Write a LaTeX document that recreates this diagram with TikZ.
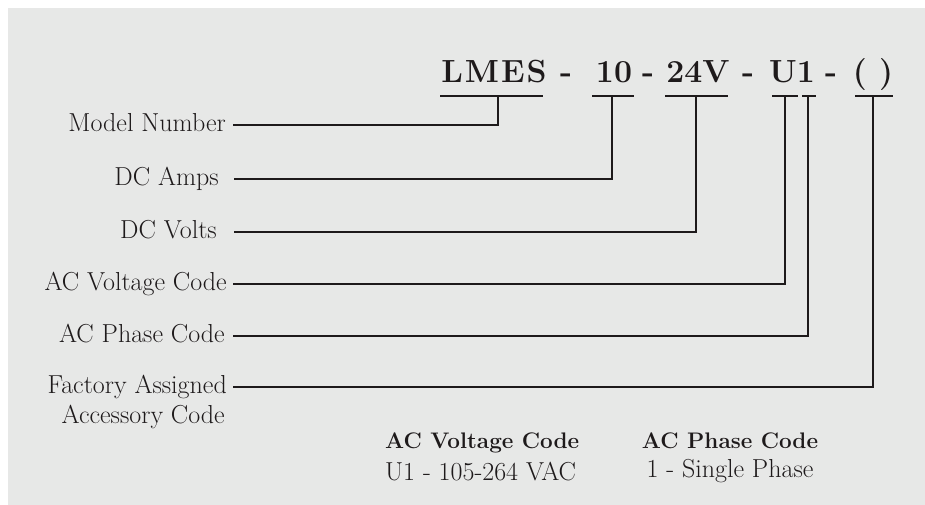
\documentclass[tikz,border=0pt]{standalone}
\usepackage{tikz}
\usetikzlibrary{positioning}

\definecolor{panel}{HTML}{E7E8E7}
\definecolor{ink}{HTML}{1E1A1B}

\begin{document}
\begin{tikzpicture}[x=1pt, y=-1pt,
  title/.style={font=\fontsize{32}{36}\selectfont\bfseries, text=ink, inner sep=0pt, anchor=base},
  lbl/.style={font=\fontsize{26}{31}\selectfont, text=ink, inner sep=0pt, text height=18pt, text depth=5.5pt, anchor=east},
  head/.style={font=\fontsize{22.5}{27}\selectfont\bfseries, text=ink, inner sep=0pt},
  val/.style={font=\fontsize{26}{31}\selectfont, text=ink, inner sep=0pt},
  wire/.style={draw=ink, line width=1.8pt}]

  \useasboundingbox (0,0) rectangle (925,504);
  \fill[white] (0,0) rectangle (925,504);
  \fill[panel] (8,8) rectangle (940,520);

  % Part number
  \node[title] (lmes) at (494,82) {L\kern2pt M\kern2pt E\kern2pt S};
  \node[title] (dasha) at (566,82) {-};
  \node[title] (amp) at (614,82) {10};
  \node[title] (dashb) at (648,82) {-};
  \node[title] (volt) at (698,82) {24V};
  \node[title] (dashc) at (748,82) {-};
  \node[title] (code) at (792,82) {U1};
  \node[title] (dashd) at (831,82) {-};
  \node[title] (extra) at (873,82) {( )};

  % Underlines
  \draw[wire] (440,96) -- (543,96);
  \draw[wire] (592,96) -- (634,96);
  \draw[wire] (665,96) -- (728,96);
  \draw[wire] (772,96) -- (798,96);
  \draw[wire] (802,96) -- (816,96);
  \draw[wire] (855,96) -- (893,96);
  \coordinate (lmesbar) at (498,96);
  \coordinate (ampbar) at (612,96);
  \coordinate (voltbar) at (696,96);
  \coordinate (ubar) at (785,96);
  \coordinate (onebar) at (808,96);
  \coordinate (extrabar) at (873,96);

  % Labels
  \node[lbl] (model) at (226,125) {Model Number};
  \node[lbl] (amps) at (219,179) {DC Amps};
  \node[lbl] (dcvolts) at (217,232) {DC Volts};
  \node[lbl] (acvolt) at (227,284) {AC Voltage Code};
  \node[lbl] (acphase) at (225,336) {AC Phase Code};
  \node[lbl] (factory) at (227,387) {Factory Assigned};
  \node[lbl, anchor=base east] (access) at (225,423) {Accessory Code};

  % Leaders
  \draw[wire] ([xshift=7pt]model.east) -| (lmesbar);
  \draw[wire] ([xshift=15pt]amps.east) -| (ampbar);
  \draw[wire] ([xshift=17pt]dcvolts.east) -| (voltbar);
  \draw[wire] ([xshift=6pt]acvolt.east) -| (ubar);
  \draw[wire] ([xshift=8pt]acphase.east) -| (onebar);
  \draw[wire] ([xshift=6pt]factory.east) -| (extrabar);

  % Code tables
  \node[head, anchor=base west] (vhead) at (385,448) {AC Voltage Code};
  \node[val, anchor=base west] (vval) at (385,480) {U1 - 105-264 VAC};
  \node[head, anchor=base] (phead) at (730,448) {AC Phase Code};
  \node[val, anchor=base] (pval) at (730,477) {1 - Single Phase};

\end{tikzpicture}
\end{document}
